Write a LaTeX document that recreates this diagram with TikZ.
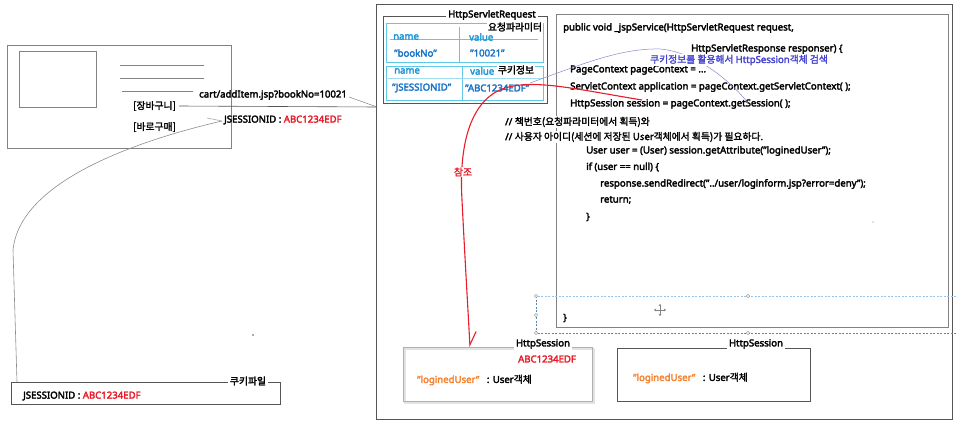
\documentclass[tikz,border=0pt]{standalone}
\usepackage{fontspec}
\setmainfont{Noto Sans}[FakeBold=3]
\newfontfamily\kr{Noto Sans CJK KR}[Scale=1.02, FakeBold=2]
\usetikzlibrary{arrows.meta}
\definecolor{dgray}{RGB}{85,85,85}
\definecolor{mgray}{RGB}{130,130,130}
\definecolor{lgray}{RGB}{175,175,175}
\definecolor{jred}{RGB}{232,28,40}
\definecolor{jorange}{RGB}{245,130,50}
\definecolor{jcyan}{RGB}{95,200,230}
\definecolor{jcyantext}{RGB}{30,150,215}
\definecolor{jblue}{RGB}{25,115,200}
\definecolor{jpurple}{RGB}{70,70,210}
\definecolor{jpline}{RGB}{135,135,205}
\definecolor{selblue}{RGB}{110,170,220}
\begin{document}
\begin{tikzpicture}[x=1pt,y=-1pt,
  font=\fontsize{9.6}{11}\selectfont,
  txt/.style={inner sep=0pt, anchor=west},
  boxst/.style={draw=#1, line width=0.9pt, anchor=north west, inner sep=0pt, outer sep=0pt},
  titlest/.style={fill=white, inner sep=2pt},
  cyanbox/.style={draw=jcyan, line width=0.9pt, anchor=north west, inner sep=0pt, outer sep=0pt},
  handle/.style={draw=mgray, fill=white, line width=0.4pt}
]
\useasboundingbox (0,0) rectangle (956,423);

% ---------- browser ----------
\node[boxst=mgray, minimum width=224pt, minimum height=103pt] (browser) at (7,45) {};
\node[boxst=mgray, minimum width=77pt, minimum height=56pt] (img) at (19,51) {};
\draw[mgray, line width=0.6pt] (120,65) -- (204,65);
\draw[mgray, line width=0.6pt] (120,78) -- (204,78);
\draw[mgray, line width=0.6pt] (122,91) -- (193,91);
\node[txt] (cart) at (133,106) {\kr [장바구니]};
\node[txt] (buy) at (133,127) {\kr [바로구매]};
\node[txt] (url) at (199,95) {cart/addItem.jsp?bookNo=10021};
\node[txt] (jsid) at (224,120) {JSESSIONID : \textcolor{jred}{ABC1234EDF}};

% ---------- cookie file ----------
\node[boxst=dgray, minimum width=269pt, minimum height=22pt] (cookie) at (11,382) {};
\node[titlest] (cookiet) at (248,381) {\kr 쿠키파일};
\node[txt] (cookietxt) at (23,396) {JSESSIONID : \textcolor{jred}{ABC1234EDF}};

% callout from JSESSIONID to cookie file
\coordinate (calltip) at (222,121);
\coordinate (calltail) at (207,118);
\coordinate (callend) at (17,382);
\draw[lgray, line width=0.6pt] (calltail) -- (calltip);
\draw[lgray!80!black, line width=0.6pt] (calltip) .. controls (140,140) and (20,180) .. (13,250) -- (callend);

% ---------- big server box ----------
\node[boxst=dgray, minimum width=576pt, minimum height=415pt] (server) at (376,4) {};

% request line
\coordinate (reqend) at (377,107);
\draw[dgray, line width=0.6pt] (cart.east) ++(3,0) -- (reqend);
\draw[mgray, line width=0.5pt] (url.east) ++(2,2) -- (reqend);

% ---------- HttpServletRequest ----------
\node[boxst=dgray, minimum width=164pt, minimum height=87pt] (req) at (383,16) {};
\node[titlest] (reqt) at (492,15) {HttpServletRequest};

\node[cyanbox, minimum width=157pt, minimum height=39pt] (tab1) at (386,23) {};
\draw[jcyan, line width=0.8pt] (459,27) -- (459,62);
\draw[jcyan, line width=0.8pt] (390,39) -- (538,39);
\node[titlest, inner sep=1pt] (tab1t) at (515,27) {\kr 요청파라미터};
\node[txt, text=jcyantext] (n1) at (393,37) {name};
\node[txt, text=jcyantext] (v1) at (469,37) {value};
\node[txt, text=jblue] (b1) at (394,53) {\symbol{34}bookNo\symbol{34}};
\node[txt, text=jblue] (b2) at (470,53) {\symbol{34}10021\symbol{34}};

\node[cyanbox, minimum width=157pt, minimum height=34pt] (tab2) at (386,66) {};
\draw[jcyan, line width=0.8pt] (462,66) -- (462,100);
\draw[jcyan!60, line width=0.6pt] (386,78) -- (543,78);
\node[txt, text=jcyantext] (n2) at (394,71) {name};
\node[txt, text=jcyantext] (v2) at (470,71) {value};
\node[titlest, inner sep=1pt] (tab2t) at (516,70) {\kr 쿠키정보};
\node[txt, text=jblue] (c1) at (392,88) {\symbol{34}JSESSIONID\symbol{34}};
\node[txt, text=jblue] (c2) at (465,88) {\symbol{34}ABC1234EDF\symbol{34}};

% ---------- code box ----------
\node[boxst=mgray, minimum width=392pt, minimum height=313pt] (code) at (556,14) {};
\node[txt] (l1) at (563,28) {public void \_jspService(HttpServletRequest request,};
\node[txt] (l2) at (691,49) {HttpServletResponse responser) \{};
\node[txt] (l3) at (570,70) {PageContext pageContext = ...};
\node[txt] (l4) at (570,87) {ServletContext application = pageContext.getServletContext( );};
\node[txt] (l5) at (570,104) {HttpSession session = pageContext.getSession( );};
\node[txt, fill=white, inner ysep=1pt] (l6) at (505,122) {// \kr 책번호(요청파라미터에서 획득)와};
\node[txt, fill=white, inner ysep=1pt] (l7) at (505,137) {// \kr 사용자 아이디(세션에 저장된 User객체에서 획득)가 필요하다.};
\node[txt] (l8) at (586,151) {User user = (User) session.getAttribute(\symbol{34}loginedUser\symbol{34});};
\node[txt] (l9) at (586,167) {if (user == null) \{};
\node[txt] (l10) at (600,184) {response.sendRedirect(\symbol{34}../user/loginform.jsp?error=deny\symbol{34});};
\node[txt] (l11) at (600,200) {return;};
\node[txt] (l12) at (586,217) {\}};
\node[txt] (l13) at (563,318) {\}};

% purple callout: cookie info -> getSession
\coordinate (pstart) at (530,83);
\coordinate (pend) at (748,103);
\draw[jpline, line width=0.5pt] (pstart) .. controls (580,65) and (620,48) .. (660,49) .. controls (695,52) and (730,80) .. (pend);
\node[txt, text=jpurple, fill=white, inner ysep=0.5pt] (plabel) at (650,60) {\kr 쿠키정보를 활용해서 \normalfont HttpSession\kr 객체 검색};

% ---------- HttpSession boxes ----------
\draw[lgray!35, line width=1.2pt] (405,349) rectangle (594,403);
\node[boxst=lgray, minimum width=189pt, minimum height=54pt] (sess1) at (403,347) {};
\node[titlest] (sess1t) at (543,344) {HttpSession};
\node[txt, text=jred] (sess1id) at (518,359) {ABC1234EDF};
\node[txt] (sess1u) at (417,380) {\textcolor{jorange}{\symbol{34}loginedUser\symbol{34}}\hspace{5pt} : User\kr 객체};

\node[boxst=dgray, minimum width=193pt, minimum height=53pt] (sess2) at (617,348) {};
\node[titlest] (sess2t) at (756,344) {HttpSession};
\node[txt] (sess2u) at (633,378) {\textcolor{jorange}{\symbol{34}loginedUser\symbol{34}}\hspace{5pt} : User\kr 객체};

% ---------- red reference arrow ----------
\coordinate (rstart) at (642,100);
\coordinate (rend) at (470,347);
\draw[jred, line width=1.1pt, -{Straight Barb[left,length=13pt,width=14pt]}]
  (rstart) .. controls (575,89) and (535,79) .. (505,88)
  .. controls (468,100) and (459,150) .. (462,200)
  .. controls (465,260) and (468,310) .. (rend);
\node[fill=white, text=jred, inner sep=1pt] (ref) at (463,172) {\kr 참조};

% ---------- selection artifact ----------
\draw[selblue!70, line width=0.6pt, dash pattern=on 2pt off 1.5pt] (956,296) -- (536,296);
\draw[selblue!80!black, line width=0.6pt, dash pattern=on 2pt off 1.5pt] (536,296) -- (536,333) -- (956,333);
\foreach \p in {(536,296),(536,315),(536,333),(748,296),(748,333)} \draw[handle] \p circle (1.6pt);
\begin{scope}[shift={(660,310)}, mgray, line width=0.6pt]
  \draw[-{Stealth[length=2.2pt,width=3pt]}] (0,0) -- (0,-6);
  \draw[-{Stealth[length=2.2pt,width=3pt]}] (0,0) -- (0,6);
  \draw[-{Stealth[length=2.2pt,width=3pt]}] (0,0) -- (-6,0);
  \draw[-{Stealth[length=2.2pt,width=3pt]}] (0,0) -- (6,0);
\end{scope}

% stray dots
\fill[dgray] (253,335) circle (0.8pt);
\fill[mgray] (873,222) circle (0.6pt);
\end{tikzpicture}
\end{document}
